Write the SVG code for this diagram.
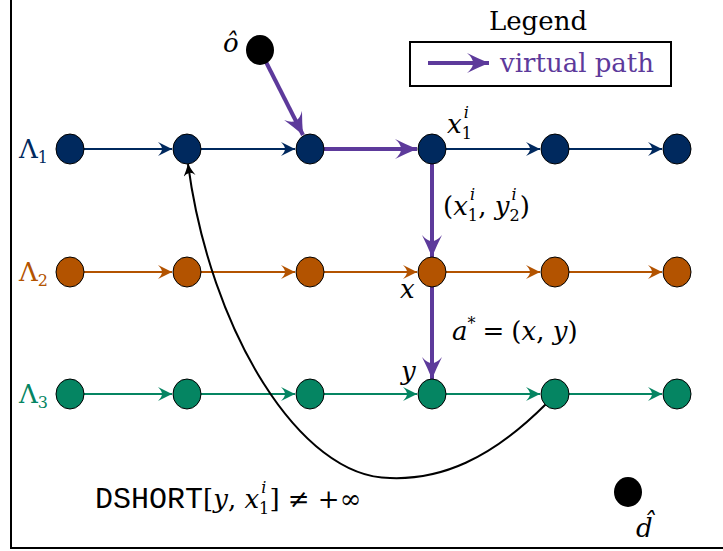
<svg xmlns="http://www.w3.org/2000/svg" width="723" height="551" viewBox="0 0 723 551">
<style>
text{font-family:'DejaVu Serif','Liberation Serif',serif;font-size:26px;fill:#000}
.m{font-style:italic}
.s{font-size:16px;font-style:normal}
.si{font-size:16px;font-style:italic}
.tt{font-family:'Liberation Mono','DejaVu Sans Mono',monospace;font-size:30px}
.r1{fill:#00295e;stroke:#000;stroke-width:1}
.r2{fill:#b35300;stroke:#000;stroke-width:1}
.r3{fill:#058562;stroke:#000;stroke-width:1}
.e1{stroke:#00295e;stroke-width:2;fill:none}
.e2{stroke:#b35300;stroke-width:2;fill:none}
.e3{stroke:#058562;stroke-width:2;fill:none}
.vp{stroke:#5d3a9b;stroke-width:4;fill:none}
</style>
<defs>
<marker id="a1" markerUnits="userSpaceOnUse" markerWidth="20" markerHeight="20" refX="14" refY="7" orient="auto"><path d="M14,7 Q6,3 0,0 Q4,4 4,7 Q4,10 0,14 Q6,11 14,7 Z" fill="#00295e"/></marker>
<marker id="a2" markerUnits="userSpaceOnUse" markerWidth="20" markerHeight="20" refX="14" refY="7" orient="auto"><path d="M14,7 Q6,3 0,0 Q4,4 4,7 Q4,10 0,14 Q6,11 14,7 Z" fill="#b35300"/></marker>
<marker id="a3" markerUnits="userSpaceOnUse" markerWidth="20" markerHeight="20" refX="14" refY="7" orient="auto"><path d="M14,7 Q6,3 0,0 Q4,4 4,7 Q4,10 0,14 Q6,11 14,7 Z" fill="#058562"/></marker>
<marker id="av" markerUnits="userSpaceOnUse" markerWidth="30" markerHeight="30" refX="22" refY="10" orient="auto"><path d="M22,10 Q10,5 0,0 Q6,5 6,10 Q6,15 0,20 Q10,15 22,10 Z" fill="#5d3a9b"/></marker>
<marker id="ab" markerUnits="userSpaceOnUse" markerWidth="20" markerHeight="20" refX="12" refY="6" orient="auto"><path d="M12,6 Q5,3 0,0 Q3,3 3,6 Q3,9 0,12 Q5,9 12,6 Z" fill="#000"/></marker>
</defs>
<rect x="11" y="-2" width="714" height="550" fill="#fff" stroke="#000" stroke-width="2"/>

<g id="connectors">
<line class="e1" x1="84" y1="149" x2="172" y2="149" marker-end="url(#a1)"/>
<line class="e1" x1="201" y1="149" x2="295" y2="149" marker-end="url(#a1)"/>
<line class="e1" x1="446" y1="149" x2="540" y2="149" marker-end="url(#a1)"/>
<line class="e1" x1="569" y1="149" x2="662" y2="149" marker-end="url(#a1)"/>
<line class="e2" x1="84" y1="272" x2="172" y2="272" marker-end="url(#a2)"/>
<line class="e2" x1="201" y1="272" x2="295" y2="272" marker-end="url(#a2)"/>
<line class="e2" x1="324" y1="272" x2="417" y2="272" marker-end="url(#a2)"/>
<line class="e2" x1="446" y1="272" x2="540" y2="272" marker-end="url(#a2)"/>
<line class="e2" x1="569" y1="272" x2="662" y2="272" marker-end="url(#a2)"/>
<line class="e3" x1="84" y1="394" x2="172" y2="394" marker-end="url(#a3)"/>
<line class="e3" x1="201" y1="394" x2="295" y2="394" marker-end="url(#a3)"/>
<line class="e3" x1="324" y1="394" x2="417" y2="394" marker-end="url(#a3)"/>
<line class="e3" x1="446" y1="394" x2="540" y2="394" marker-end="url(#a3)"/>
<line class="e3" x1="569" y1="394" x2="662" y2="394" marker-end="url(#a3)"/>
<line class="vp" x1="266" y1="62" x2="303" y2="135" marker-end="url(#av)"/>
<line class="vp" x1="324" y1="149" x2="417" y2="149" marker-end="url(#av)"/>
<line class="vp" x1="432" y1="163" x2="432" y2="257" marker-end="url(#av)"/>
<line class="vp" x1="432" y1="286" x2="432" y2="379" marker-end="url(#av)"/>
<path d="M546,404 C490,460 440,480 390,478 C300,478 210,330 188,164" fill="none" stroke="#000" stroke-width="2" marker-end="url(#ab)"/>
</g>

<g id="legend">
<text x="538" y="30" text-anchor="middle">Legend</text>
<rect x="410" y="42" width="261" height="44" fill="#fff" stroke="#000" stroke-width="2"/>
<line class="vp" x1="428" y1="63" x2="489" y2="63" marker-end="url(#av)"/>
<text x="500" y="72" style="fill:#5d3a9b">virtual path</text>
</g>

<g id="lab1"><text x="19" y="158" style="fill:#00295e">Λ<tspan class="s" dy="5">1</tspan></text></g>
<g id="lab2"><text x="19" y="281" style="fill:#b35300">Λ<tspan class="s" dy="5">2</tspan></text></g>
<g id="lab3"><text x="19" y="403" style="fill:#058562">Λ<tspan class="s" dy="5">3</tspan></text></g>

<g id="n11"><ellipse class="r1" cx="70" cy="149" rx="14" ry="15"/></g>
<g id="n12"><ellipse class="r1" cx="187" cy="149" rx="14" ry="15"/></g>
<g id="n13"><ellipse class="r1" cx="310" cy="149" rx="14" ry="15"/></g>
<g id="n14"><ellipse class="r1" cx="432" cy="149" rx="14" ry="15"/></g>
<g id="n15"><ellipse class="r1" cx="555" cy="149" rx="14" ry="15"/></g>
<g id="n16"><ellipse class="r1" cx="677" cy="149" rx="14" ry="15"/></g>
<g id="n21"><ellipse class="r2" cx="70" cy="272" rx="14" ry="15"/></g>
<g id="n22"><ellipse class="r2" cx="187" cy="272" rx="14" ry="15"/></g>
<g id="n23"><ellipse class="r2" cx="310" cy="272" rx="14" ry="15"/></g>
<g id="n24"><ellipse class="r2" cx="432" cy="272" rx="14" ry="15"/></g>
<g id="n25"><ellipse class="r2" cx="555" cy="272" rx="14" ry="15"/></g>
<g id="n26"><ellipse class="r2" cx="677" cy="272" rx="14" ry="15"/></g>
<g id="n31"><ellipse class="r3" cx="70" cy="394" rx="14" ry="15"/></g>
<g id="n32"><ellipse class="r3" cx="187" cy="394" rx="14" ry="15"/></g>
<g id="n33"><ellipse class="r3" cx="310" cy="394" rx="14" ry="15"/></g>
<g id="n34"><ellipse class="r3" cx="432" cy="394" rx="14" ry="15"/></g>
<g id="n35"><ellipse class="r3" cx="555" cy="394" rx="14" ry="15"/></g>
<g id="n36"><ellipse class="r3" cx="677" cy="394" rx="14" ry="15"/></g>

<g id="o"><ellipse cx="260" cy="50" rx="14" ry="15" fill="#000"/><text class="m" x="223" y="52">ô</text></g>
<g id="d"><ellipse cx="628" cy="492" rx="14" ry="15" fill="#000"/><text class="m" x="636" y="537">d̂</text></g>

<g id="labels">
<text x="447" y="133"><tspan class="m">x</tspan><tspan class="s" dy="6">1</tspan><tspan class="si" dx="-8" dy="-21">i</tspan></text>
<text x="443" y="215">(<tspan class="m">x</tspan><tspan class="s" dy="6">1</tspan><tspan class="si" dx="-8" dy="-21">i</tspan><tspan dx="3" dy="15">, </tspan><tspan class="m">y</tspan><tspan class="s" dy="6">2</tspan><tspan class="si" dx="-8" dy="-21">i</tspan><tspan dx="3" dy="15">)</tspan></text>
<text class="m" x="400" y="298">x</text>
<text x="452" y="340"><tspan class="m">a</tspan><tspan class="s" dy="-11">*</tspan><tspan dy="11" dx="7">=</tspan><tspan dx="7">(</tspan><tspan class="m">x</tspan><tspan>, </tspan><tspan class="m">y</tspan><tspan>)</tspan></text>
<text class="m" x="401" y="380">y</text>
<text x="95" y="508"><tspan class="tt">DSHORT</tspan><tspan>[</tspan><tspan class="m">y</tspan><tspan>, </tspan><tspan class="m">x</tspan><tspan class="s" dy="6">1</tspan><tspan class="si" dx="-8" dy="-21">i</tspan><tspan dx="3" dy="15">] ≠ +∞</tspan></text>
</g>
</svg>
